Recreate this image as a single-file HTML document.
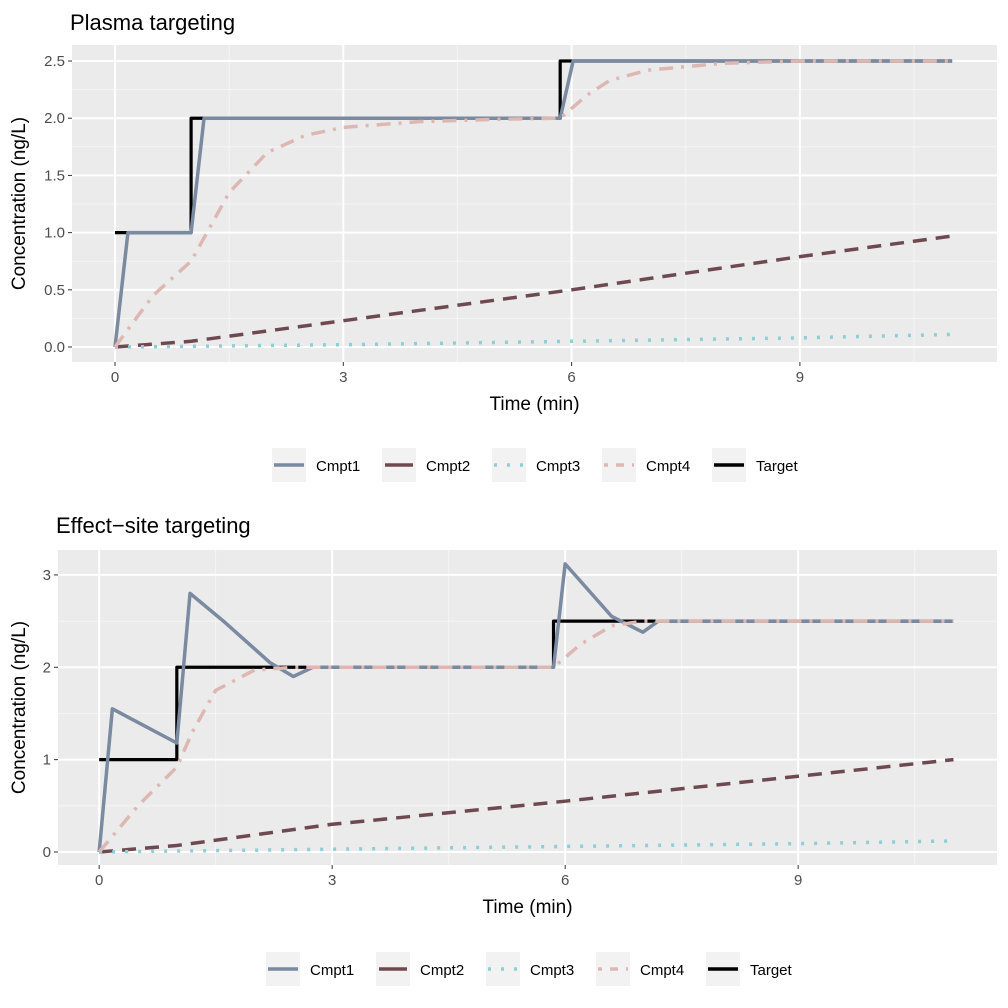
<!DOCTYPE html>
<html><head><meta charset="utf-8"><style>
body{margin:0;background:#fff;font-family:"Liberation Sans",Arial,sans-serif}
svg{display:block}
</style></head><body>
<svg id="c" width="1008" height="1008" xmlns="http://www.w3.org/2000/svg" font-family="Liberation Sans, Arial, sans-serif"></svg>
<script>
const seriesNames=["Cmpt1","Cmpt2","Cmpt3","Cmpt4","Target"];
const colors=["#7A8AA0","#6E4A50","#8ECFD6","#DDB8B3","#000000"];
const dashes=["","14,9","3,10","14,8,3,8",""];
const xTicks=[0,3,6,9];
// Plasma targeting
const p1Cmpt1T=[0,0.17,1,1.17,5.85,6.02,11];
const p1Cmpt1V=[0,1,1,2,2,2.5,2.5];
const p1Cmpt2T=[0,1,3,6,9,11];
const p1Cmpt2V=[0,0.05,0.23,0.5,0.79,0.97];
const p1Cmpt3T=[0,3,6,9,11];
const p1Cmpt3V=[0,0.02,0.05,0.08,0.11];
const p1Cmpt4T=[0,0.5,1,1.5,2,2.5,3,4,5,5.85,6.2,6.5,7,8,9,11];
const p1Cmpt4V=[0,0.45,0.75,1.35,1.7,1.85,1.92,1.97,1.99,2,2.2,2.33,2.42,2.48,2.5,2.5];
const p1TargetT=[0,1,1,5.85,5.85,11];
const p1TargetV=[1,1,2,2,2.5,2.5];
const p1YTicks=["0.0","0.5","1.0","1.5","2.0","2.5"];
// Effect-site targeting
const p2Cmpt1T=[0,0.17,1,1.17,1.6,2.2,2.5,2.75,5.85,6.0,6.6,7.0,7.2,11];
const p2Cmpt1V=[0,1.55,1.18,2.8,2.5,2.05,1.9,2.0,2,3.12,2.55,2.38,2.5,2.5];
const p2Cmpt2T=[0,1,3,6,9,11];
const p2Cmpt2V=[0,0.07,0.3,0.55,0.82,1.0];
const p2Cmpt3T=[0,3,6,9,11];
const p2Cmpt3V=[0,0.03,0.06,0.09,0.12];
const p2Cmpt4T=[0,0.5,1,1.2,1.5,2,2.5,5.85,6.2,6.6,7,11];
const p2Cmpt4V=[0,0.5,0.92,1.3,1.75,1.97,2,2,2.25,2.45,2.5,2.5];
const p2TargetT=[0,1,1,5.85,5.85,11];
const p2TargetV=[1,1,2,2,2.5,2.5];
const p2YTicks=["0","1","2","3"];

const svg=document.getElementById('c');
const NS="http://www.w3.org/2000/svg";
function el(t,a,p){const e=document.createElementNS(NS,t);for(const k in a)e.setAttribute(k,a[k]);(p||svg).appendChild(e);return e;}

function panel(o){
  const g=el('g',{});
  
  
  const X=v=>o.x0+(v-o.xmin)/(o.xmax-o.xmin)*(o.x1-o.x0);
  const Y=v=>o.y1-(v-o.ymin)/(o.ymax-o.ymin)*(o.y1-o.y0);
  const bg=el('rect',{x:o.x0,y:o.y0,width:o.x1-o.x0,height:o.y1-o.y0,fill:'#EBEBEB'},g);
  
  
  const yv=o.yTicks.map(Number);
  const ystep=yv[1]-yv[0];
  for(let i=0;i<xTicks.length+1;i++){const v=xTicks[0]+1.5+3*(i);if(v<o.xmax)el('line',{x1:X(v),x2:X(v),y1:o.y0,y2:o.y1,stroke:'#F5F5F5','stroke-width':1},g);}
  for(let i=0;i<yv.length;i++){const v=yv[i]+ystep/2;if(v<o.ymax)el('line',{x1:o.x0,x2:o.x1,y1:Y(v),y2:Y(v),stroke:'#F5F5F5','stroke-width':1},g);}
  xTicks.forEach(v=>{
    el('line',{x1:X(v),x2:X(v),y1:o.y0,y2:o.y1,stroke:'#fff','stroke-width':2},g);
    el('line',{x1:X(v),x2:X(v),y1:o.y1,y2:o.y1+4,stroke:'#333','stroke-width':1},g);
    const t=el('text',{x:X(v),y:o.y1+20,'text-anchor':'middle','font-size':15,fill:'#4D4D4D'},g);t.textContent=v;
    
    
  });
  o.yTicks.forEach((s,i)=>{
    const v=yv[i];
    el('line',{x1:o.x0,x2:o.x1,y1:Y(v),y2:Y(v),stroke:'#fff','stroke-width':2},g);
    el('line',{x1:o.x0-4,x2:o.x0,y1:Y(v),y2:Y(v),stroke:'#333','stroke-width':1},g);
    const t=el('text',{x:o.x0-7,y:Y(v)+5,'text-anchor':'end','font-size':15,fill:'#4D4D4D'},g);t.textContent=s;
    
    
  });
  const drawOrder=[4,0,1,2,3];
  drawOrder.forEach(i=>{
    const T=o.data[i][0],V=o.data[i][1];
    const pts=T.map((t,j)=>X(t)+','+Y(V[j])).join(' ');
    const a={points:pts,fill:'none',stroke:colors[i],'stroke-width':i==4?3.2:3.5,'stroke-linejoin':'round'};
    if(dashes[i])a['stroke-dasharray']=dashes[i];
    const pl=el('polyline',a,g);
    
    
  });
  const tt=el('text',{x:o.tx,y:o.ty,'font-size':22,fill:'#000'},g);tt.textContent=o.title;
  
  
  const xt=el('text',{x:(o.x0+o.x1)/2,y:o.y1+48,'text-anchor':'middle','font-size':19,fill:'#000'},g);xt.textContent='Time (min)';
  
  
  const cy=(o.y0+o.y1)/2;
  const yt=el('text',{x:25,y:cy,'text-anchor':'middle','font-size':19,fill:'#000',transform:'rotate(-90 25 '+cy+')'},g);yt.textContent='Concentration (ng/L)';
  
  
  const lg=el('g',{},g);
  
  
  seriesNames.forEach((n,i)=>{
    const kx=o.lx+i*110;
    const e=el('g',{},lg);
    
    
    el('rect',{x:kx,y:o.ly-17,width:34,height:34,fill:'#F2F2F2'},e);
    const a={x1:kx+2,x2:kx+32,y1:o.ly,y2:o.ly,stroke:colors[i],'stroke-width':3.5};
    if(i==2)a['stroke-dasharray']='3,10';
    if(i==3)a['stroke-dasharray']='4,8,8,8';
    if(i==1){a.x1=kx+3;a.x2=kx+31;}
    el('line',a,e);
    const t=el('text',{x:kx+44,y:o.ly+6,'font-size':15,fill:'#000'},e);t.textContent=n;
  });
}
panel({name:'plasma-panel',title:'Plasma targeting',tx:70,ty:30,x0:72,x1:997,y0:45,y1:362,xmin:-0.565,xmax:11.59,ymin:-0.131,ymax:2.64,
  yTicks:p1YTicks,lx:272,ly:465,
  data:[[p1Cmpt1T,p1Cmpt1V],[p1Cmpt2T,p1Cmpt2V],[p1Cmpt3T,p1Cmpt3V],[p1Cmpt4T,p1Cmpt4V],[p1TargetT,p1TargetV]]});
panel({name:'effect-site-panel',title:'Effect\u2212site targeting',tx:56,ty:533,x0:58,x1:997,y0:550,y1:865,xmin:-0.53,xmax:11.56,ymin:-0.141,ymax:3.27,
  yTicks:p2YTicks,lx:266,ly:969,
  data:[[p2Cmpt1T,p2Cmpt1V],[p2Cmpt2T,p2Cmpt2V],[p2Cmpt3T,p2Cmpt3V],[p2Cmpt4T,p2Cmpt4V],[p2TargetT,p2TargetV]]});
</script>
</body></html>
